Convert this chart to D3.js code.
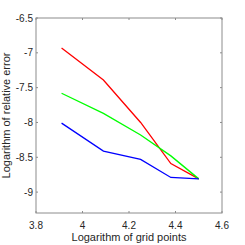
<!DOCTYPE html>
<html>
<head>
<meta charset="utf-8">
<script src="https://cdn.jsdelivr.net/npm/d3@7"></script>
<style>
  body { margin: 0; background: #fff; }
  svg { display: block; font-family: "Liberation Sans", Arial, sans-serif; }
</style>
</head>
<body>
<script>
// data
const xVals = [3.91, 4.09, 4.25, 4.38, 4.5];
const redVals = [-6.93, -7.39, -8.0, -8.59, -8.81];
const greenVals = [-7.58, -7.87, -8.18, -8.48, -8.81];
const blueVals = [-8.01, -8.41, -8.53, -8.79, -8.81];
const xTicks = [3.8, 4, 4.2, 4.4, 4.6];
const yTicks = [-6.5, -7, -7.5, -8, -8.5, -9];

const series = [
  { color: "#ff0000", values: redVals },
  { color: "#00ff00", values: greenVals },
  { color: "#0000ff", values: blueVals },
];

const W = 245, H = 245;
// plot box edges (can't call it "top", that's window.top)
const box = { left: 36, right: 222, top: 18, bottom: 213 };
const AXIS = "#8c8c8c";
const TEXT = "#262626";

const svg = d3.select("body").append("svg").attr("width", W).attr("height", H);

const x = d3.scaleLinear().domain([3.8, 4.6]).range([box.left, box.right]);
const y = d3.scaleLinear().domain([-9.3, -6.5]).range([box.bottom, box.top]);

// lines
const line = d3.line().x((d, i) => x(xVals[i])).y((d) => y(d));
series.forEach((s) => {
  svg.append("path")
    .datum(s.values)
    .attr("fill", "none")
    .attr("stroke", s.color)
    .attr("stroke-width", 1.3)
    .attr("d", line);
});

// box
svg.append("rect")
  .attr("x", box.left).attr("y", box.top)
  .attr("width", box.right - box.left).attr("height", box.bottom - box.top)
  .attr("fill", "none").attr("stroke", AXIS).attr("stroke-width", 1);

// ticks on all four sides, pointing inward
const TL = 2;
const tk = svg.append("g").attr("stroke", AXIS).attr("stroke-width", 1);
xTicks.forEach((v) => {
  tk.append("line").attr("x1", x(v)).attr("x2", x(v)).attr("y1", box.bottom).attr("y2", box.bottom - TL);
  tk.append("line").attr("x1", x(v)).attr("x2", x(v)).attr("y1", box.top).attr("y2", box.top + TL);
});
yTicks.forEach((v) => {
  tk.append("line").attr("x1", box.left).attr("x2", box.left + TL).attr("y1", y(v)).attr("y2", y(v));
  tk.append("line").attr("x1", box.right).attr("x2", box.right - TL).attr("y1", y(v)).attr("y2", y(v));
});

// tick labels
svg.append("g").selectAll("text").data(xTicks).join("text")
  .attr("x", (d) => x(d)).attr("y", 229)
  .attr("text-anchor", "middle").attr("font-size", 10).attr("fill", TEXT)
  .text((d) => d3.format(".1~f")(d));

svg.append("g").selectAll("text").data(yTicks).join("text")
  .attr("x", 33).attr("y", (d) => y(d) + 3.5)
  .attr("text-anchor", "end").attr("font-size", 10).attr("fill", TEXT)
  .text((d) => String(d));

// axis titles
svg.append("text")
  .attr("x", (box.left + box.right) / 2).attr("y", 241)
  .attr("text-anchor", "middle").attr("font-size", 11).attr("fill", TEXT)
  .text("Logarithm of grid points");

svg.append("text")
  .attr("transform", `translate(10,${(box.top + box.bottom) / 2}) rotate(-90)`)
  .attr("text-anchor", "middle").attr("font-size", 11).attr("fill", TEXT)
  .text("Logarithm of relative error");
</script>
</body>
</html>
